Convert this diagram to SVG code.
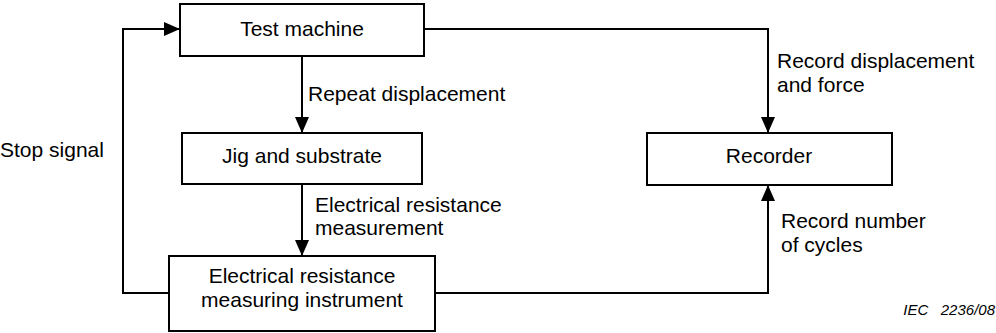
<svg xmlns="http://www.w3.org/2000/svg" width="996" height="333" viewBox="0 0 996 333">
<style>
.box{fill:#fff;stroke:#000;stroke-width:2}
.ln{fill:none;stroke:#000;stroke-width:2}
text{font-family:"Liberation Sans",Arial,sans-serif;font-size:21px;fill:#000}
.c{text-anchor:middle}
.note{font-size:15px;font-style:italic}
</style>
<defs>
<marker id="ah" markerUnits="userSpaceOnUse" markerWidth="16" markerHeight="14" refX="16" refY="7" orient="auto">
<path d="M0,0 L16,7 L0,14 Z" fill="#000"/>
</marker>
</defs>
<g id="connectors">
<path class="ln" d="M302,56 V133" marker-end="url(#ah)"/>
<path class="ln" d="M302,184 V256" marker-end="url(#ah)"/>
<path class="ln" d="M169,293 H123 V29 H180" marker-end="url(#ah)"/>
<path class="ln" d="M424,29 H768 V133" marker-end="url(#ah)"/>
<path class="ln" d="M435,293 H768 V185" marker-end="url(#ah)"/>
</g>
<g id="test-machine">
<rect class="box" x="180" y="4" width="244" height="52"/>
<text class="c" x="302" y="36">Test machine</text>
</g>
<g id="jig">
<rect class="box" x="182" y="133" width="240" height="51"/>
<text class="c" x="302" y="163">Jig and substrate</text>
</g>
<g id="instrument">
<rect class="box" x="169" y="256" width="266" height="75"/>
<text class="c" x="302" y="283">Electrical resistance</text>
<text class="c" x="302" y="307">measuring instrument</text>
</g>
<g id="recorder">
<rect class="box" x="647" y="133" width="245" height="52"/>
<text class="c" x="769" y="163">Recorder</text>
</g>
<g id="labels">
<text x="308" y="101">Repeat displacement</text>
<text x="0" y="157">Stop signal</text>
<text x="315" y="212">Electrical resistance</text>
<text x="315" y="235">measurement</text>
<text x="777" y="68">Record displacement</text>
<text x="777" y="92">and force</text>
<text x="781" y="228">Record number</text>
<text x="781" y="252">of cycles</text>
<text class="note" x="995" y="315" text-anchor="end" xml:space="preserve">IEC   2236/08</text>
</g>
</svg>
